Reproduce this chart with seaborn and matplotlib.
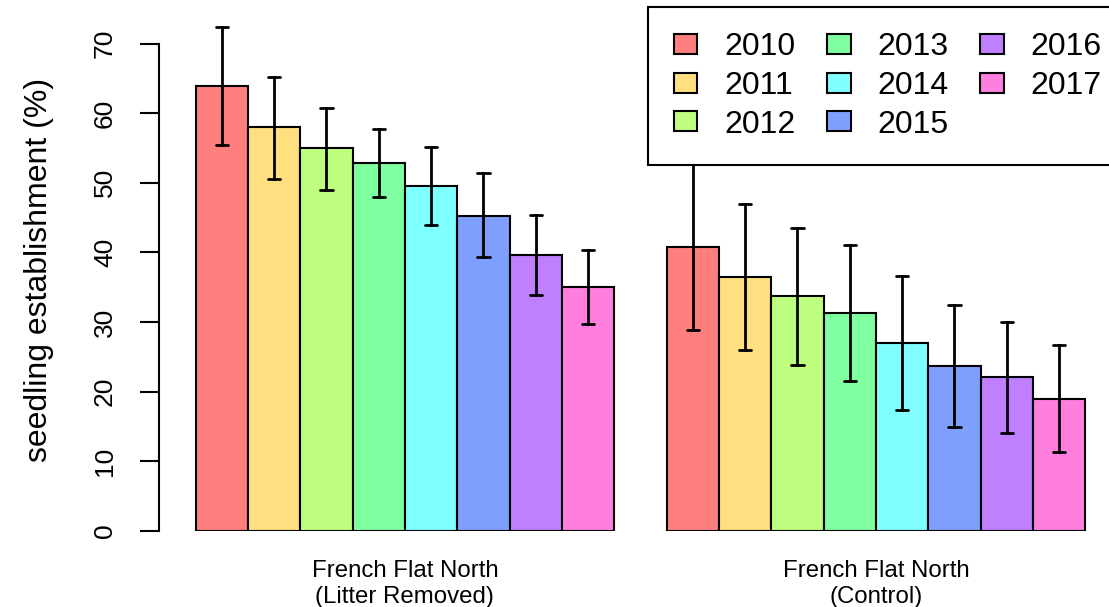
import numpy as np
import pandas as pd
import matplotlib
matplotlib.use("Agg")
import matplotlib.pyplot as plt
import seaborn as sns

# Seedling establishment (%) by year, with lower / upper error limits
sites = ["French Flat North\n(Litter Removed)", "French Flat North\n(Control)"]
years = ["2010", "2011", "2012", "2013", "2014", "2015", "2016", "2017"]

litter_mean = [63.9, 58.0, 55.0, 52.9, 49.6, 45.3, 39.6, 35.1]
litter_low = [55.5, 50.6, 49.0, 48.0, 44.0, 39.4, 33.9, 29.7]
litter_high = [72.4, 65.2, 60.7, 57.8, 55.2, 51.4, 45.4, 40.4]

control_mean = [40.8, 36.5, 33.8, 31.3, 27.0, 23.7, 22.1, 19.0]
control_low = [28.9, 26.0, 23.9, 21.5, 17.4, 15.0, 14.1, 11.3]
control_high = [52.8, 46.9, 43.5, 41.1, 36.6, 32.5, 30.0, 26.7]

colors = ["#FF7F7F", "#FFDF7F", "#BFFF7F", "#7FFF9F",
          "#7FFFFF", "#7F9FFF", "#BF7FFF", "#FF7FDF"]

y_ticks = [0, 10, 20, 30, 40, 50, 60, 70]

# Long table: each bar gets its low / mean / high values; the median gives the
# bar height and the min-max range gives the error bar.
rows = []
for site, means, lows, highs in [
    (sites[0], litter_mean, litter_low, litter_high),
    (sites[1], control_mean, control_low, control_high),
]:
    for yr, m, lo, hi in zip(years, means, lows, highs):
        for v in (lo, m, hi):
            rows.append({"site": site, "year": yr, "value": v})
df = pd.DataFrame(rows)

sns.set_theme(style="white")
plt.rcParams["font.family"] = ["Liberation Sans", "DejaVu Sans"]
plt.rcParams["text.color"] = "black"
plt.rcParams["axes.labelcolor"] = "black"
plt.rcParams["xtick.color"] = "black"
plt.rcParams["ytick.color"] = "black"

fig = plt.figure(figsize=(11.09, 6.07), dpi=100)
ax = fig.add_axes([159 / 1109, 76 / 607, 950 / 1109, 531 / 607])

sns.barplot(
    data=df, x="site", y="value", hue="year",
    order=sites, hue_order=years, palette=colors,
    estimator="median", errorbar=lambda v: (v.min(), v.max()),
    width=8 / 9, gap=0, saturation=1,
    edgecolor="black", linewidth=1.5,
    capsize=0.21, err_kws={"color": "black", "linewidth": 2},
    ax=ax,
)

ax.set_xlim(-0.522, 1.495)
ax.set_ylim(0, 76.26)
ax.set_yticks(y_ticks)
ax.set_yticklabels([str(t) for t in y_ticks], rotation=90, va="center")

for side in ("top", "right", "bottom"):
    ax.spines[side].set_visible(False)
ax.spines["left"].set_bounds(0, 70)
ax.spines["left"].set_color("black")
ax.spines["left"].set_linewidth(1.5)

ax.tick_params(axis="y", length=13.7, width=1.5, color="black", pad=16.5,
               labelsize=19, labelcolor="black", left=True)
ax.tick_params(axis="x", length=0, pad=21, labelsize=17.3, labelcolor="black")
for lab in ax.get_xticklabels():
    lab.set_linespacing(1.2)

ax.set_xlabel("")
ax.set_ylabel("seedling establishment (%)", fontsize=23, color="black")
ax.yaxis.set_label_coords(-0.126, 0.4915)
ax.yaxis.label.set_verticalalignment("center")

sns.move_legend(
    ax, loc="upper left", bbox_to_anchor=(0.5147, 0.987),
    ncol=3, title=None, frameon=True, fancybox=False,
    fontsize=23, borderaxespad=0, borderpad=0.8,
    handlelength=0.75, handleheight=0.58, handletextpad=0.85,
    columnspacing=0.96, labelspacing=0.27,
)
leg = ax.get_legend()
leg.get_frame().set_edgecolor("black")
leg.get_frame().set_linewidth(1.5)
leg.get_frame().set_alpha(1)
for txt in leg.get_texts():
    txt.set_color("black")
for h in leg.legend_handles:
    h.set_edgecolor("black")
    h.set_linewidth(1.5)

fig.savefig("out.png", dpi=100)
